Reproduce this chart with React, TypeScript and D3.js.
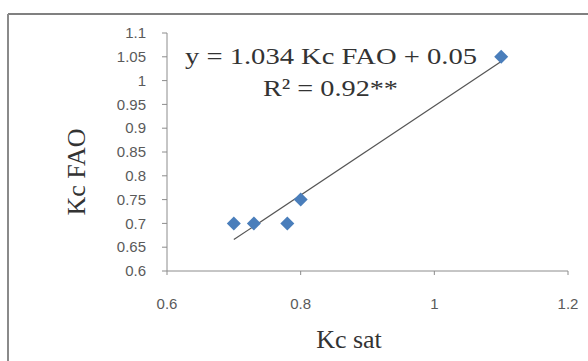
import React from "react";
import * as d3 from "d3";

const kcSat = [0.7, 0.73, 0.78, 0.8, 1.1];
const kcFao = [0.7, 0.7, 0.7, 0.75, 1.05];
const xTicks = [0.6, 0.8, 1.0, 1.2];
const yTicks = [0.6, 0.65, 0.7, 0.75, 0.8, 0.85, 0.9, 0.95, 1, 1.05, 1.1];
const equationText = "y = 1.034 Kc FAO + 0.05";
const r2Text = "R² = 0.92**";
const xTitle = "Kc sat";
const yTitle = "Kc FAO";

export default function App() {
  const W = 588, H = 361;
  const x = d3.scaleLinear().domain([0.6, 1.2]).range([167, 568]);
  const y = d3.scaleLinear().domain([0.6, 1.1]).range([271, 33]);
  const mx = d3.mean(kcSat)!, my = d3.mean(kcFao)!;
  let sxx = 0, sxy = 0;
  kcSat.forEach((v, i) => { sxx += (v - mx) ** 2; sxy += (v - mx) * (kcFao[i] - my); });
  const slope = sxy / sxx, icpt = my - slope * mx;
  const x0 = d3.min(kcSat)!, x1 = d3.max(kcSat)!;
  const r = 7;
  const diamond = `M0,${-r}L${r},0L0,${r}L${-r},0Z`;
  const fmt = (v: number) => String(+v.toFixed(2));
  const serif = "Liberation Serif, Times New Roman, serif";
  const sans = "Liberation Sans, Arial, sans-serif";
  return (
    <svg width={W} height={H} style={{ position: "absolute", left: 0, top: 0, background: "#fff" }}>
      <line x1={8} y1={14} x2={588} y2={14} stroke="#808080" strokeWidth={2} />
      <line x1={8} y1={14} x2={8} y2={361} stroke="#8a8a8a" strokeWidth={2} />
      <line x1={x(0.6)} y1={y(1.1)} x2={x(0.6)} y2={y(0.6)} stroke="#8c8c8c" strokeWidth={1} />
      <line x1={x(0.6)} y1={y(0.6)} x2={x(1.2)} y2={y(0.6)} stroke="#8c8c8c" strokeWidth={1} />
      {yTicks.map((t) => (
        <g key={"y" + t}>
          <line x1={x(0.6) - 5} x2={x(0.6)} y1={y(t)} y2={y(t)} stroke="#8c8c8c" />
          <text x={146} y={y(t)} dy="0.35em" textAnchor="end" fontFamily={sans} fontSize={15} fill="#5a5a5a">
            {fmt(t)}
          </text>
        </g>
      ))}
      {xTicks.map((t) => (
        <g key={"x" + t}>
          <line x1={x(t)} x2={x(t)} y1={y(0.6)} y2={y(0.6) + 4} stroke="#8c8c8c" />
          <text x={x(t)} y={y(0.6) + 38} textAnchor="middle" fontFamily={sans} fontSize={15} fill="#5a5a5a">
            {fmt(t)}
          </text>
        </g>
      ))}
      <line x1={x(x0)} y1={y(slope * x0 + icpt)} x2={x(x1)} y2={y(slope * x1 + icpt)} stroke="#555" strokeWidth={1.2} />
      {kcSat.map((v, i) => (
        <path key={i} d={diamond} transform={`translate(${x(v)},${y(kcFao[i])})`} fill="#4a7ebb" />
      ))}
      <text x={185} y={64} fontFamily={serif} fontSize={24} fill="#333" textLength={292} lengthAdjust="spacingAndGlyphs">{equationText}</text>
      <text x={263} y={96} fontFamily={serif} fontSize={24} fill="#333" textLength={135} lengthAdjust="spacingAndGlyphs">{r2Text}</text>
      <text x={349} y={348} textAnchor="middle" fontFamily={serif} fontSize={26} fill="#333">{xTitle}</text>
      <text transform={`translate(85,172) rotate(-90)`} textAnchor="middle" fontFamily={serif} fontSize={26} fill="#333">{yTitle}</text>
    </svg>
  );
}
